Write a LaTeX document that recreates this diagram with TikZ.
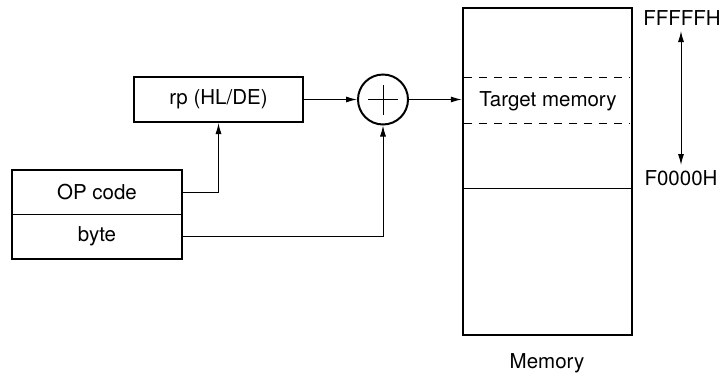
\documentclass[tikz,border=0pt]{standalone}
\usepackage{fontspec}
\setmainfont{TeX Gyre Heros}
\usetikzlibrary{arrows.meta}
\begin{document}
\begin{tikzpicture}[x=1pt,y=-1pt,
  every node/.style={font=\fontsize{20.5}{24}\selectfont},
  regbox/.style={draw,line width=2pt,inner sep=0pt,minimum width=169pt,minimum height=45pt},
  fieldbox/.style={draw,line width=0.9pt,inner sep=0pt,minimum width=170pt},
  conn/.style={line width=1pt,-{Latex[length=11pt,width=6pt]}},
  addcirc/.style={draw,circle,line width=2pt,minimum size=50pt,inner sep=0pt}]
\useasboundingbox (0,0) rectangle (725,381);
% register
\node[regbox] (rp) at (218.5,99.5) {rp (HL/DE)};
% adder
\node[addcirc] (add) at (383,99.5) {};
\draw[line width=1pt] ([xshift=-15pt]add.center) -- ([xshift=15pt]add.center);
\draw[line width=1pt] ([yshift=-15pt]add.center) -- ([yshift=15pt]add.center);
% instruction
\node[fieldbox,minimum height=44pt] (op) at (97,192) {OP code};
\node[fieldbox,minimum height=45pt] (byte) at (97,236.5) {byte};
\draw[line width=2pt] (op.north west) rectangle (byte.south east);
% memory
\node[draw,line width=2.5pt,minimum width=169pt,minimum height=327pt,inner sep=0pt] (mem) at (547.5,171.5) {};
\coordinate (m1) at (463,188);
\coordinate (m2) at (632,188);
\draw[line width=1pt] (m1) -- (m2);
\coordinate (d1) at (464,77);
\coordinate (d2) at (630,77);
\coordinate (d3) at (464,123);
\coordinate (d4) at (630,123);
\draw[line width=1pt,dash pattern=on 8pt off 7pt] (d1) -- (d2);
\draw[line width=1pt,dash pattern=on 8pt off 7pt] (d3) -- (d4);
\node (tm) at (548,101) {Target memory};
\node (memlbl) at (547,363) {Memory};
% addresses
\node (top) at (682,18) {FFFFFH};
\node (bot) at (681,178) {F0000H};
\coordinate (a1) at (681,31);
\coordinate (a2) at (681,165);
\draw[line width=1pt,{Latex[length=11pt,width=6pt]}-{Latex[length=11pt,width=6pt]}] (a1) -- (a2);
% connectors
\draw[conn] (rp.east) -- (add.west);
\draw[conn] (add.east) -- (add.east -| mem.west);
\draw[conn] (op.east) -| (rp.south);
\draw[conn] (byte.east) -| (add.south);
\end{tikzpicture}
\end{document}
